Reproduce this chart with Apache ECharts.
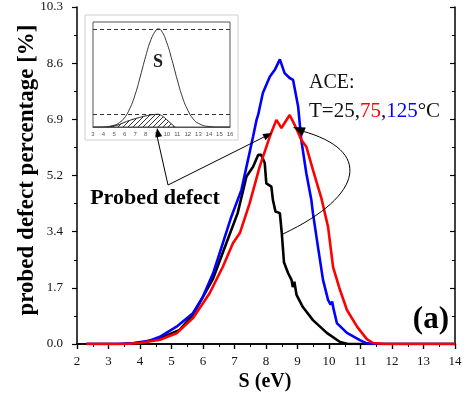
<!DOCTYPE html>
<html>
<head>
<meta charset="utf-8">
<script src="https://cdn.jsdelivr.net/npm/echarts@6/dist/echarts.min.js"></script>
<style>html,body{margin:0;padding:0;background:#fff;}#c{width:468px;height:398px;}</style>
</head>
<body>
<div id="c"></div>
<script>
// ---- data ----
const sBlack = [2.3,3.5,4.0,4.63,5.26,5.68,6.32,6.74,7.1,7.38,7.59,7.75,7.85,7.96,8.01,8.17,8.22,8.3,8.44,8.5,8.57,8.7,8.81,8.85,8.9,8.97,9.17,9.49,9.93,10.35,10.6,14];
const pBlack = [0,0,0.04,0.17,0.43,0.89,2.0,3.08,4.0,5.12,5.42,5.78,5.78,5.53,4.91,4.81,4.4,4.05,4.0,3.4,2.5,2.17,1.96,1.74,1.9,1.5,1.13,0.73,0.34,0.06,0,0];
const sBlue = [2.3,3.3,3.8,4.3,4.63,5.16,5.68,6.0,6.32,6.63,6.9,7.22,7.59,7.7,7.75,7.9,8.12,8.28,8.44,8.59,8.75,8.86,9.02,9.12,9.28,9.44,9.49,9.65,9.81,9.97,10.05,10.1,10.15,10.25,10.57,10.98,11.2,11.5,14];
const pBlue = [0,0,0.03,0.1,0.22,0.53,0.94,1.45,2.16,3.08,3.89,4.71,6.34,6.85,7.0,7.67,8.17,8.38,8.7,8.28,8.13,8.07,7.26,6.24,5.22,4.4,4.0,2.97,1.96,1.35,1.2,1.3,1.05,0.64,0.34,0.12,0.02,0,0];
const sRed = [2.3,3.5,4.0,4.63,5.16,5.68,6.21,6.63,6.95,7.17,7.48,7.8,8.12,8.33,8.49,8.75,8.91,9.12,9.28,9.49,9.76,9.97,10.13,10.35,10.57,10.89,11.2,11.4,11.8,14];
const pRed = [0,0,0.03,0.13,0.33,0.79,1.55,2.36,3.08,3.39,4.3,5.42,6.34,6.85,6.6,7.0,6.7,6.24,6.03,5.32,4.45,3.58,2.35,1.65,1.04,0.53,0.15,0.03,0,0];
const yTickLabels = ['0.0','1.7','3.4','5.2','6.9','8.6','10.3'];
// inset schematic
const insetS = [3,4,5,5.5,6,6.5,7,7.5,8,8.5,9,9.2,9.5,10,10.5,11,11.5,12,12.5,13,14,15,16];
const insetCurve = [0,0.002,0.018,0.044,0.096,0.19,0.33,0.52,0.72,0.89,0.99,1.0,0.98,0.86,0.68,0.48,0.30,0.17,0.083,0.037,0.005,0,0];
const bumpS = [4.3,5,5.5,6.2,7,7.8,8.5,9.2,9.6,10,10.4,10.8];
const bumpP = [0,0.01,0.025,0.057,0.085,0.108,0.124,0.13,0.11,0.074,0.035,0];
const insetLevels = [1.0,0.13];

const zip = (a,b)=>a.map((v,i)=>[v,b[i]]);
const serif = '"Liberation Serif","Times New Roman",serif';
const yInterval = 10.3/6;

// hatch pattern
const pc = document.createElement('canvas');
pc.width = 5; pc.height = 5;
const g = pc.getContext('2d');
g.strokeStyle = '#333'; g.lineWidth = 1;
g.beginPath(); g.moveTo(0,5); g.lineTo(5,0); g.moveTo(-1,1); g.lineTo(1,-1); g.moveTo(4,6); g.lineTo(6,4); g.stroke();

function arrowHead(tx,ty,fx,fy,len,w){
  const dx=tx-fx, dy=ty-fy, L=Math.hypot(dx,dy), ux=dx/L, uy=dy/L;
  const bx=tx-ux*len, by=ty-uy*len;
  return {type:'polygon', z:100, shape:{points:[[tx,ty],[bx-uy*w,by+ux*w],[bx+uy*w,by-ux*w]]}, style:{fill:'#000'}};
}
function seg(x1,y1,x2,y2){ return {type:'line', z:100, shape:{x1,y1,x2,y2}, style:{stroke:'#000', lineWidth:1}}; }

const axLine = {show:true, lineStyle:{color:'#000', width:1.5}};
const chart = echarts.init(document.getElementById('c'), null, {renderer:'canvas'});
const mainX = (pos, show) => ({
  type:'value', gridIndex:0, position:pos, min:2, max:14, interval:1,
  axisLine:axLine,
  axisTick:{show:true, inside:!show, length:5, lineStyle:{color:'#000', width:1.2}},
  minorTick:{show:true, splitNumber:2, length:3, lineStyle:{color:'#000', width:1}},
  axisLabel:{show:show, color:'#111', fontFamily:serif, fontSize:13, margin:11},
  splitLine:{show:false}
});
const mainY = (pos, show) => ({
  type:'value', gridIndex:0, position:pos, min:0, max:10.3, interval:yInterval,
  axisLine:axLine,
  axisTick:{show:true, inside:!show, length:5, lineStyle:{color:'#000', width:1.2}},
  minorTick:{show:true, splitNumber:2, length:3, lineStyle:{color:'#000', width:1}},
  axisLabel:{show:show, color:'#111', fontFamily:serif, fontSize:13, margin:14,
    formatter:v=>yTickLabels[Math.round(v/yInterval)]},
  splitLine:{show:false}
});

chart.setOption({
  animation:false,
  backgroundColor:'#fff',
  grid:[
    {left:77, right:13, top:7, bottom:54},
    {left:93, top:22, width:137, height:105, show:true, borderColor:'#555', borderWidth:1, backgroundColor:'#fff', z:1}
  ],
  xAxis:[
    mainX('bottom', true),
    mainX('top', false),
    {type:'value', gridIndex:1, min:3, max:16, interval:1,
     axisLine:{show:true, lineStyle:{color:'#555', width:1}}, axisTick:{show:false},
     axisLabel:{color:'#555', fontSize:6, margin:4, fontFamily:'"Liberation Sans",sans-serif'},
     splitLine:{show:false}}
  ],
  yAxis:[
    mainY('left', true),
    mainY('right', false),
    {type:'value', gridIndex:1, min:0, max:1.07, show:false, splitLine:{show:false}}
  ],
  series:[
    {type:'line', xAxisIndex:0, yAxisIndex:0, data:zip(sBlack,pBlack), showSymbol:false,
     lineStyle:{color:'#000', width:2.6}, z:3},
    {type:'line', xAxisIndex:0, yAxisIndex:0, data:zip(sBlue,pBlue), showSymbol:false,
     lineStyle:{color:'#0000ff', width:2.6}, z:4},
    {type:'line', xAxisIndex:0, yAxisIndex:0, data:zip(sRed,pRed), showSymbol:false,
     lineStyle:{color:'#ff0000', width:2.6}, z:5},
    {type:'line', xAxisIndex:2, yAxisIndex:2, data:zip(bumpS,bumpP), showSymbol:false, smooth:0.3,
     lineStyle:{color:'#222', width:1}, areaStyle:{color:{image:pc, repeat:'repeat'}, opacity:1}, z:6},
    {type:'line', xAxisIndex:2, yAxisIndex:2, data:zip(insetS,insetCurve), showSymbol:false, smooth:true,
     lineStyle:{color:'#333', width:1}, z:7,
     markLine:{silent:true, symbol:'none', label:{show:false},
       lineStyle:{color:'#333', width:1, type:[4,3]},
       data:insetLevels.map(v=>({yAxis:v}))}}
  ],
  graphic:[
    {type:'rect', z:-1, shape:{x:85, y:15, width:153, height:125}, style:{fill:'#fff', stroke:'#cfcfcf', lineWidth:1}},
    {type:'text', z:100, style:{text:'S', x:158, y:62, font:'bold 18px '+serif, fill:'#222', textAlign:'center', textVerticalAlign:'middle'}},
    {type:'text', z:100, style:{text:'Probed defect', x:155, y:198, font:'bold 22px '+serif, fill:'#000', textAlign:'center', textVerticalAlign:'middle'}},
    seg(168,185,157,136), arrowHead(157,128,168,185,9,3.5),
    seg(168,185,264,137), arrowHead(272,133,168,185,9,3.5),
    {type:'bezierCurve', z:100, shape:{x1:283,y1:234,x2:302,y2:131,cpx1:365,cpy1:195,cpx2:372,cpy2:150}, style:{stroke:'#000', fill:null, lineWidth:1}},
    arrowHead(293,127,312,135,12,4.5),
    {type:'text', z:100, style:{text:'ACE:', x:309, y:83, font:'20px '+serif, fill:'#111', textAlign:'left', textVerticalAlign:'middle'}},
    {type:'text', z:100, style:{text:'{k|T=25,}{r|75}{k|,}{b|125}{k|°C}', x:309, y:111, textAlign:'left', textVerticalAlign:'middle',
      rich:{k:{fill:'#111', font:'21px '+serif}, r:{fill:'#ff0000', font:'21px '+serif}, b:{fill:'#0000ff', font:'21px '+serif}}}},
    {type:'text', z:100, style:{text:'(a)', x:449, y:320, font:'bold 31px '+serif, fill:'#000', textAlign:'right', textVerticalAlign:'middle'}},
    {type:'text', z:100, style:{text:'S (eV)', x:265, y:382, font:'bold 20px '+serif, fill:'#000', textAlign:'center', textVerticalAlign:'middle'}},
    {type:'text', z:100, rotation:Math.PI/2, x:27, y:170,
     style:{text:'probed defect percentage [%]', x:0, y:0, font:'bold 23px '+serif, fill:'#000', textAlign:'center', textVerticalAlign:'middle'}}
  ]
});
</script>
</body>
</html>
